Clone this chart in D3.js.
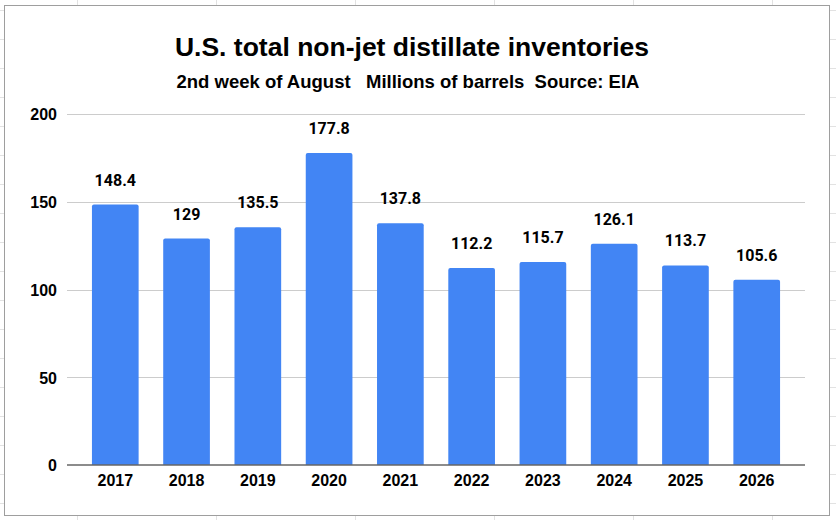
<!DOCTYPE html>
<html>
<head>
<meta charset="utf-8">
<script src="https://cdn.jsdelivr.net/npm/d3@7"></script>
<style>
  html, body { margin: 0; padding: 0; background: #fff; }
  svg { display: block; }
</style>
</head>
<body>
<svg id="chart" width="836" height="520"></svg>
<script>
const years = ["2017", "2018", "2019", "2020", "2021", "2022", "2023", "2024", "2025", "2026"];
const inventories = [148.4, 129, 135.5, 177.8, 137.8, 112.2, 115.7, 126.1, 113.7, 105.6];
const yTicks = [0, 50, 100, 150, 200];
const valueLabels = ["148.4", "129", "135.5", "177.8", "137.8", "112.2", "115.7", "126.1", "113.7", "105.6"];
const titleText = "U.S. total non-jet distillate inventories";
const subtitleText = "2nd week of August   Millions of barrels  Source: EIA";

const data = years.map((y, i) => ({ year: y, value: inventories[i], label: valueLabels[i] }));

const svg = d3.select("#chart");
const W = 836, H = 520;

// spreadsheet grid behind the chart
const bg = svg.append("g");
d3.range(77, W, 139).forEach(x => {
  bg.append("line").attr("x1", x + 0.5).attr("x2", x + 0.5).attr("y1", 0).attr("y2", H)
    .attr("stroke", "#e2e2e2").attr("stroke-width", 1);
});
d3.range(10, H, 29).forEach(y => {
  bg.append("line").attr("x1", 0).attr("x2", W).attr("y1", y + 0.5).attr("y2", y + 0.5)
    .attr("stroke", "#e2e2e2").attr("stroke-width", 1);
});

// chart frame
svg.append("rect").attr("x", 4.5).attr("y", 5.5).attr("width", 825).attr("height", 510)
  .attr("fill", "#fff").attr("stroke", "#9e9e9e").attr("stroke-width", 1);

const x = d3.scaleBand().domain(years).range([67, 805]).paddingInner(0.345).paddingOuter(0.35);
const y = d3.scaleLinear().domain([0, 200]).range([465, 114]);

// gridlines
svg.append("g").selectAll("line").data(yTicks.filter(t => t !== 0)).join("line")
  .attr("x1", 67).attr("x2", 805)
  .attr("y1", d => Math.round(y(d)) + 0.5).attr("y2", d => Math.round(y(d)) + 0.5)
  .attr("stroke", "#cccccc").attr("stroke-width", 1);

// y axis labels
const yAxis = svg.append("g").attr("transform", "translate(67,0)")
  .call(d3.axisLeft(y).tickValues(yTicks).tickSize(0).tickPadding(10).tickFormat(d3.format("d")));
yAxis.select(".domain").remove();
yAxis.selectAll("text")
  .attr("font-family", "'Liberation Sans', Arial, sans-serif")
  .attr("font-weight", "bold").attr("font-size", "16px").attr("fill", "#000")
  .attr("dy", "0.36em");

// bars with slightly rounded top corners
const r = 2;
svg.append("g").selectAll("path").data(data).join("path")
  .attr("fill", "#4285f4")
  .attr("d", d => {
    const x0 = x(d.year), x1 = x0 + x.bandwidth(), y0 = y(0), y1 = y(d.value);
    return `M${x0},${y0}V${y1 + r}Q${x0},${y1} ${x0 + r},${y1}H${x1 - r}Q${x1},${y1} ${x1},${y1 + r}V${y0}Z`;
  });

// x axis
const xAxis = svg.append("g").attr("transform", `translate(0,${y(0)})`)
  .call(d3.axisBottom(x).tickSize(0).tickPadding(10));
xAxis.select(".domain").attr("stroke", "#666").attr("stroke-width", 1.5)
  .attr("d", "M67,0H805");
xAxis.selectAll("text")
  .attr("font-family", "'Liberation Sans', Arial, sans-serif")
  .attr("font-weight", "bold").attr("font-size", "16px").attr("fill", "#000")
  .attr("dy", "0.71em");

// value labels
svg.append("g").selectAll("text").data(data).join("text")
  .attr("x", d => x(d.year) + x.bandwidth() / 2)
  .attr("y", d => y(d.value) - 19)
  .attr("text-anchor", "middle")
  .attr("font-family", "Roboto, sans-serif")
  .attr("font-weight", "bold").attr("font-size", "16px").attr("fill", "#000")
  .text(d => d.label);

// titles
svg.append("text").attr("x", 412).attr("y", 56).attr("text-anchor", "middle")
  .attr("font-family", "'Liberation Sans', Arial, sans-serif")
  .attr("font-weight", "bold").attr("font-size", "26.5px").attr("fill", "#000")
  .text(titleText);
svg.append("text").attr("x", 408).attr("y", 88).attr("text-anchor", "middle")
  .attr("font-family", "'Liberation Sans', Arial, sans-serif")
  .attr("font-weight", "bold").attr("font-size", "18.5px").attr("fill", "#000")
  .style("white-space", "pre")
  .text(subtitleText);
</script>
</body>
</html>
